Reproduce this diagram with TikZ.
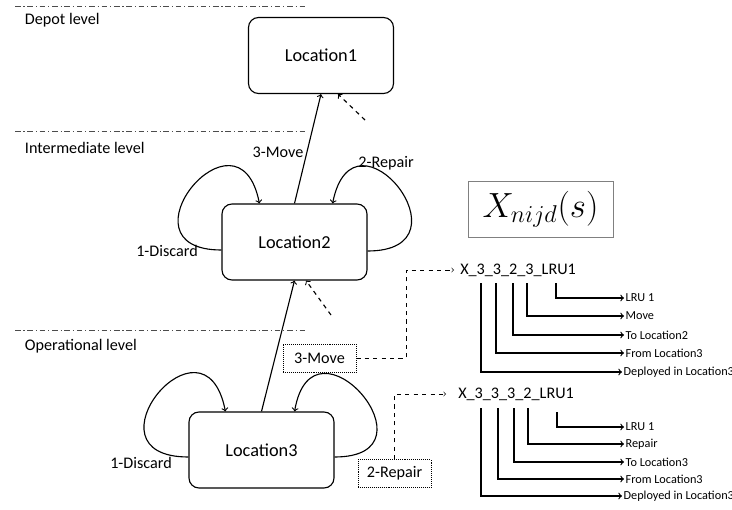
\documentclass[tikz,border=0pt]{standalone}
\usepackage{fontspec}
\setmainfont{Carlito}
\usetikzlibrary{arrows}

\begin{document}
\begin{tikzpicture}[->, >=to, x=0.025cm, y=0.025cm, font=\fontsize{11.5}{13}\selectfont]
      \tikzstyle{loc}=[draw, thick, rounded corners=0.25cm, minimum width=3.625cm, minimum height=1.9cm, font=\fontsize{13}{15}\selectfont]
      \tikzstyle{level}=[-, gray!60!black, dash pattern=on 4pt off 2pt on 0.8pt off 2pt]
      \tikzstyle{act}=[draw, densely dotted, minimum width=1.825cm, minimum height=0.7cm]
      \tikzstyle{hint}=[dashed]
      \tikzstyle{code}=[anchor=west, inner sep=0pt]
      \tikzstyle{part}=[anchor=west, inner sep=1pt, font=\fontsize{8.7}{10}\selectfont]
      \useasboundingbox (0,0) rectangle (732,509);
      % levels
      \draw[level] (15,503) -- (306,503);
      \draw[level] (15,378) -- (306,378);
      \draw[level] (15,179) -- (306,179);
      \node[anchor=west] (dep) at (20,489) {Depot level};
      \node[anchor=west] (int) at (20,361) {Intermediate level};
      \node[anchor=west] (ope) at (20,163) {Operational level};
      % locations
      \node[loc] (L1) at (321,453.5) {Location1};
      \node[loc] (L2) at (294.5,267) {Location2};
      \node[loc] (L3) at (261.5,59) {Location3};
      \draw[thick] (L2.north) -- (L1.south);
      \draw[thick] (L3.north) -- (L2.south);
      \coordinate (d1) at (365,389);
      \coordinate (d2) at (331,194);
      \draw[hint, thick] (d1) -- ([shift={(17,0)}]L1.south);
      \draw[hint, thick] (d2) -- ([shift={(11.5,0)}]L2.south);
      % self loops
      \draw[thick] ([shift={(0,-8)}]L2.west) .. controls +(-108,0) and +(-21,106) .. ([shift={(38,0)}]L2.north west);
      \draw[thick] ([shift={(0,-9)}]L2.east) .. controls +(108,0) and +(21,106) .. ([shift={(-35,0)}]L2.north east);
      \draw[thick] ([shift={(0,-7)}]L3.west) .. controls +(-110,0) and +(-21,108) .. ([shift={(37,0)}]L3.north west);
      \draw[thick] ([shift={(0,-7)}]L3.east) .. controls +(108,0) and +(18,106) .. ([shift={(-40,0)}]L3.north east);
      \node (mv1) at (278,357) {3-Move};
      \node (rp1) at (386,346) {2-Repair};
      \node (dc1) at (167,258) {1-Discard};
      \node (dc2) at (141,46) {1-Discard};
      % variable
      \node[draw=gray, thin, minimum width=3.625cm, minimum height=1.4cm, font=\fontsize{25}{29}\selectfont] (F) at (540.5,300) {$X_{nijd}(s)$};
      \node[act] (mv) at (319.5,151) {3-Move};
      \node[act] (rp) at (394.5,35.5) {2-Repair};
      \node[code] (x1) at (460,239) {X\_3\_3\_2\_3\_LRU1};
      \node[code] (x2) at (458,115) {X\_3\_3\_3\_2\_LRU1};
      \draw[hint] (mv.east) -- ++(50,0) |- ([shift={(-6,0)}]x1.west);
      \draw[hint] (rp.north) |- ([shift={(-12,0)}]x2.west);
      % meaning of the move variable
      \coordinate (a1) at (481,226);
      \coordinate (a2) at (496,226);
      \coordinate (a3) at (513,226);
      \coordinate (a4) at (527,226);
      \coordinate (a5) at (556,226);
      \node[part] (p5) at (624,211) {LRU 1};
      \node[part] (p4) at (624,193) {Move};
      \node[part] (p3) at (624,174) {To Location2};
      \node[part] (p2) at (624,156) {From Location3};
      \node[part] (p1) at (622,137) {Deployed in Location3};
      \draw[thick] (a5) |- (p5);
      \draw[thick] (a4) |- (p4);
      \draw[thick] (a3) |- (p3);
      \draw[thick] (a2) |- (p2);
      \draw[thick] (a1) |- (p1);
      % meaning of the repair variable
      \coordinate (b1) at (481,101);
      \coordinate (b2) at (498,101);
      \coordinate (b3) at (514,101);
      \coordinate (b4) at (528,101);
      \coordinate (b5) at (557,97);
      \node[part] (q5) at (624,82) {LRU 1};
      \node[part] (q4) at (624,65) {Repair};
      \node[part] (q3) at (624,47) {To Location3};
      \node[part] (q2) at (624,30) {From Location3};
      \node[part] (q1) at (622,13) {Deployed in Location3};
      \draw[thick] (b5) |- (q5);
      \draw[thick] (b4) |- (q4);
      \draw[thick] (b3) |- (q3);
      \draw[thick] (b2) |- (q2);
      \draw[thick] (b1) |- (q1);
\end{tikzpicture}
\end{document}
